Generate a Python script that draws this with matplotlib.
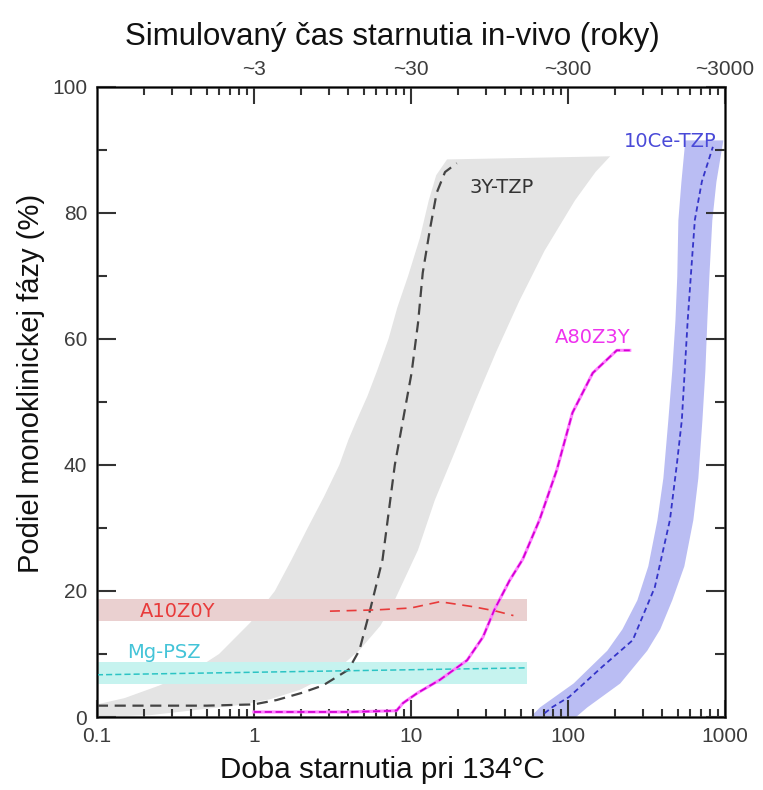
import matplotlib.pyplot as plt
from matplotlib.ticker import LogLocator, NullFormatter, FixedLocator, FixedFormatter

# 3Y-TZP grey band: left edge (bottom -> top), right edge (top -> bottom)
grey_left_x = [0.1, 0.1, 0.15, 0.25, 0.42, 0.6, 0.95, 1.36, 1.74, 2.2, 2.8, 3.5, 4.0, 4.5, 5.3, 6.1, 7.2, 8.2, 9.6,
               11.4, 13, 14.5, 17]
grey_left_y = [0, 2, 3, 5, 7.5, 10, 15, 20, 25, 30, 35, 40, 44, 47, 51, 55, 60, 65, 70, 76, 82, 86, 88.5]
grey_right_x = [186, 150, 111, 71, 49, 35, 25.6, 19, 14.2, 11.1, 7.9, 6.4, 4.7, 3.2, 1.96, 1.26, 0.81, 0.22, 0.1]
grey_right_y = [89, 86.5, 82, 74, 66, 58, 50, 42, 34.4, 26.5, 18.6, 14.5, 10.6, 7, 4.3, 2.8, 1.9, 0.3, 0]

# 3Y-TZP dashed curve
tzp3_x = [0.1, 0.5, 1.0, 1.4, 2.0, 2.75, 4.0, 4.7, 5.5, 6.6, 7.9, 10.1, 11.1, 11.9, 13.2, 14.6, 16.5, 19.6]
tzp3_y = [1.8, 1.8, 2.0, 2.7, 3.8, 5.0, 7.5, 10.6, 17, 25, 40, 54.6, 62.5, 70.5, 77.3, 83.2, 86.5, 87.9]

# A10Z0Y
a10_band = [15.3, 18.8]
a10_x = [3.05, 6, 10, 15.3, 25, 35, 45]
a10_y = [16.8, 17.0, 17.3, 18.3, 17.5, 16.8, 16.1]

# Mg-PSZ
mg_band = [5.3, 8.7]
mg_x = [0.1, 55]
mg_y = [6.7, 7.8]
band_end = 55

# A80Z3Y
a80_x = [1, 4, 8.1, 8.9, 11, 15.3, 22.8, 28.8, 34, 42.6, 51.5, 66, 85, 107, 144, 205, 248]
a80_y = [0.8, 0.8, 1.0, 2.2, 3.8, 5.9, 9, 12.7, 17, 21.7, 25, 31.3, 39.2, 48.3, 54.6, 58.2, 58.2]

# 10Ce-TZP
ce_band_y = [0, 1.6, 5.4, 10.6, 14, 18.6, 24, 31.3, 38, 47.1, 55, 63, 70, 78.9, 85, 91.6]
ce_band_left = [57, 66, 108, 177, 221, 275, 323, 369, 403, 433, 459, 481, 494, 502, 525, 556]
ce_band_right = [111, 132, 214, 318, 385, 459, 548, 625, 673, 714, 746, 768, 791, 826, 877, 971]
ce_x = [71, 80, 102, 166, 259, 358, 447, 494, 532, 580, 607, 644, 714, 839]
ce_y = [0.6, 1.6, 3.2, 8, 12.2, 20.6, 31.3, 40, 47.1, 63, 70, 78.9, 85, 90.5]

top_ticks = [1, 10, 100, 1000]
top_labels = ['~3', '~30', '~300', '~3000']

plt.rcParams['font.family'] = ['Liberation Sans', 'DejaVu Sans']

fig = plt.figure(figsize=(7.63, 7.90), dpi=100)
ax = fig.add_axes([0.127, 0.0924, 0.823, 0.7975])

ax.fill(grey_left_x + grey_right_x, grey_left_y + grey_right_y, color='#e4e4e4', lw=0, zorder=1)
ax.fill_between([0.1, band_end], a10_band[0], a10_band[1], color='#ead0d0', lw=0, zorder=1)
ax.fill_between([0.1, band_end], mg_band[0], mg_band[1], color='#c6f3ef', lw=0, zorder=1)
ax.fill_betweenx(ce_band_y, ce_band_left, ce_band_right, color='#babdf3', lw=0, zorder=1)

ax.plot(tzp3_x, tzp3_y, color='#444444', lw=1.6, ls=(0, (5, 3)), zorder=3)
ax.plot(a10_x, a10_y, color='#e83a3a', lw=1.2, ls=(0, (6, 4)), zorder=3)
ax.plot(mg_x, mg_y, color='#2cc4c4', lw=1.1, ls=(0, (4, 2)), zorder=3)
ax.plot(a80_x, a80_y, color='#ff80ff', lw=2.2, zorder=3)
ax.plot(a80_x, a80_y, color='#d400d4', lw=1.3, ls=(0, (4, 2)), zorder=4)
ax.plot(ce_x, ce_y, color='#3434c8', lw=1.3, ls=(0, (3, 2)), zorder=3)

lab = dict(family='DejaVu Sans', fontsize=14, va='center', ha='left')
ax.text(23.8, 84, '3Y-TZP', color='#333333', **lab)
ax.text(228, 91.3, '10Ce-TZP', color='#4a4ad8', **lab)
ax.text(83, 60.2, 'A80Z3Y', color='#ee33ee', **lab)
ax.text(0.188, 16.7, 'A10Z0Y', color='#e83a3a', **lab)
ax.text(0.155, 10.2, 'Mg-PSZ', color='#44c4d8', **lab)

ax.set_xscale('log')
ax.set_xlim(0.1, 1000)
ax.set_ylim(0, 100)
ax.set_xticks([0.1, 1, 10, 100, 1000])
ax.set_xticklabels(['0.1', '1', '10', '100', '1000'])
ax.xaxis.set_minor_locator(LogLocator(base=10, subs=range(2, 10)))
ax.xaxis.set_minor_formatter(NullFormatter())
ax.set_yticks([0, 20, 40, 60, 80, 100])
ax.set_yticks([10, 30, 50, 70, 90], minor=True)

ax.tick_params(which='major', direction='in', length=14, width=1.5, color='#333333',
               labelsize=15, labelcolor='#3c3c3c', pad=7, left=True, right=True, bottom=True)
ax.tick_params(which='minor', direction='in', length=7, width=1.5, color='#333333',
               left=True, right=True, bottom=True)
ax.tick_params(axis='x', which='major', length=12)
ax.tick_params(axis='x', which='minor', length=6)
for s in ax.spines.values():
    s.set_linewidth(1.8)
    s.set_color('#333333')

top = ax.twiny()
top.set_xscale('log')
top.set_xlim(0.1, 1000)
top.xaxis.set_major_locator(FixedLocator(top_ticks))
top.xaxis.set_major_formatter(FixedFormatter(top_labels))
top.xaxis.set_minor_locator(LogLocator(base=10, subs=range(2, 10)))
top.xaxis.set_minor_formatter(NullFormatter())
top.tick_params(which='major', direction='in', length=12, width=1.5, color='#333333',
                labelsize=15, labelcolor='#3c3c3c', pad=6)
top.tick_params(which='minor', direction='in', length=6, width=1.5, color='#333333')

ax.set_xlabel('Doba starnutia pri 134°C', fontsize=21.3, color='#111111')
ax.set_ylabel('Podiel monoklinickej fázy (%)', fontsize=21, color='#111111')
top.set_xlabel('Simulovaný čas starnutia in-vivo (roky)', fontsize=22.5, color='#111111')
ax.xaxis.set_label_coords(0.455, -0.062)
ax.yaxis.set_label_coords(-0.083, 0.529)
top.xaxis.set_label_coords(0.47, 1.066)

fig.savefig('out.png', dpi=100)
